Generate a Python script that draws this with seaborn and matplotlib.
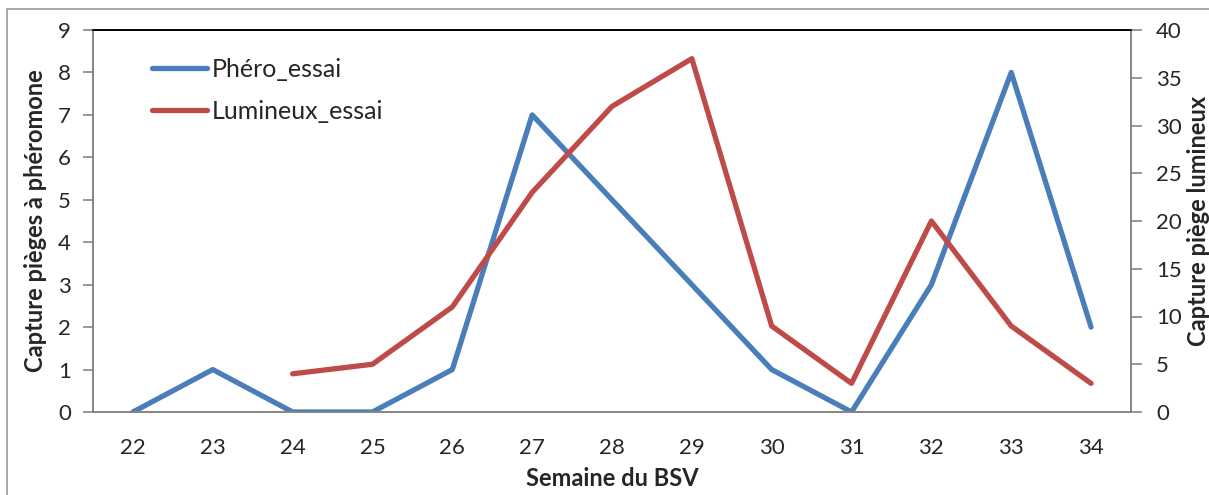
import matplotlib
matplotlib.use("Agg")
import matplotlib.pyplot as plt
import seaborn as sns
import pandas as pd
import numpy as np
from matplotlib.patches import Rectangle
from matplotlib.lines import Line2D

sns.set_style("white")
plt.rcParams['font.family'] = ['Lato', 'DejaVu Sans']

weeks = [22, 23, 24, 25, 26, 27, 28, 29, 30, 31, 32, 33, 34]
phero = [0, 1, 0, 0, 1, 7, 5, 3, 1, 0, 3, 8, 2]
lum_weeks = [24, 25, 26, 27, 28, 29, 30, 31, 32, 33, 34]
lumineux = [4, 5, 11, 23, 32, 37, 9, 3, 20, 9, 3]

blue = "#4A7EBB"
red = "#BE4B48"
gray = "#868686"

fig = plt.figure(figsize=(12.09, 4.95), dpi=100)
ax = fig.add_axes([93/1209, 1-412/495, (1131-93)/1209, (412-30)/495])
ax2 = ax.twinx()

df1 = pd.DataFrame({"week": weeks, "val": phero})
df2 = pd.DataFrame({"week": lum_weeks, "val": lumineux})
sns.lineplot(data=df1, x="week", y="val", ax=ax, color=blue, linewidth=3.8, solid_capstyle="round", legend=False)
sns.lineplot(data=df2, x="week", y="val", ax=ax2, color=red, linewidth=3.8, solid_capstyle="round", legend=False)

ax.set_xlim(21.5, 34.5)
ax.set_ylim(0, 9)
ax2.set_ylim(0, 40)
ax.set_yticks(range(0, 10))
ax2.set_yticks(range(0, 41, 5))
ax.set_xticks(weeks)
ax.set_xticks(np.arange(21.5, 35, 1), minor=True)
ax.tick_params(axis="x", which="major", length=0, labelsize=16, pad=19)
ax.tick_params(axis="x", which="minor", length=7, width=1.2, color=gray, direction="out")
ax.tick_params(axis="y", length=7, width=1.2, color=gray, labelsize=16, direction="out", left=True, pad=9)
ax2.tick_params(axis="y", length=8, width=1.2, color=gray, labelsize=16, direction="out", right=True, pad=10)

for a in (ax, ax2):
    for s in ("left", "right", "bottom"):
        a.spines[s].set_color(gray)
        a.spines[s].set_linewidth(1.3)
    a.spines["top"].set_color("black")
    a.spines["top"].set_linewidth(1.2)

ax.set_xlabel("Semaine du BSV", fontsize=17, fontweight="bold", labelpad=6)
ax.set_ylabel("Capture pièges à phéromone", fontsize=17, fontweight="bold", labelpad=8)
ax2.set_ylabel("Capture piège lumineux", fontsize=17, fontweight="bold", labelpad=4)

handles = [Line2D([], [], color=blue, linewidth=3.8, solid_capstyle="round"),
           Line2D([], [], color=red, linewidth=3.8, solid_capstyle="round")]
ax.legend(handles, ["Phéro_essai", "Lumineux_essai"], loc="upper left",
          bbox_to_anchor=(0.035, 0.985), frameon=False, fontsize=18,
          handlelength=2.2, handletextpad=0.2, labelspacing=0.75)

fig.patches.append(Rectangle((7/1209, -0.1), 1.2, 1-9/495+0.1, transform=fig.transFigure,
                             fill=False, edgecolor="#A0A0A0", linewidth=1.3))

fig.savefig("out.png", dpi=100)
